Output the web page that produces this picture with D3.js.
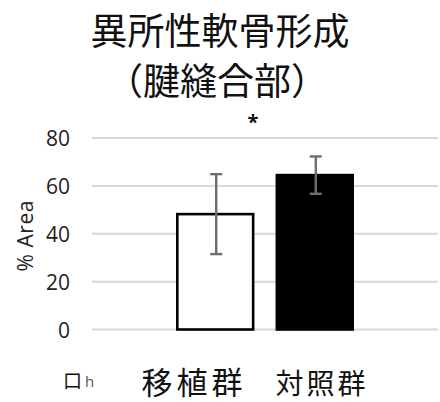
<!DOCTYPE html>
<html>
<head>
<meta charset="utf-8">
<script src="https://cdn.jsdelivr.net/npm/d3@7"></script>
<style>
  html, body { margin: 0; padding: 0; background: #fff; }
  svg { display: block; }
  .cjk { font-family: "Noto Sans CJK JP", "Noto Sans CJK SC", sans-serif; }
  .lat { font-family: "Open Sans", "Noto Sans", sans-serif; }
</style>
</head>
<body>
<svg id="chart" width="440" height="402"></svg>
<script>
// Chart data
const titleLines = ["異所性軟骨形成", "（腱縫合部）"];
const groups = ["移植群", "対照群"];
const means = [48.2, 64.5];
const errors = [16.7, 7.8];
const fills = ["#ffffff", "#000000"];
const yTicks = [0, 20, 40, 60, 80];
const yLabel = "% Area";
const legendText = ["口", "h"];
const sigMark = "*";

const svg = d3.select("#chart");

// Plot frame
const plot = { left: 92, right: 438, top: 138, bottom: 329.5 };

const y = d3.scaleLinear().domain([0, 80]).range([plot.bottom, plot.top]);

// single category cluster centred in the plot, two series side by side
const mid = (plot.left + plot.right) / 2;
const x = d3.scaleBand()
  .domain(groups)
  .range([mid - 89, mid + 89])
  .paddingInner(0.212)
  .paddingOuter(0);

// Title
svg.append("g").selectAll("text")
  .data(titleLines)
  .join("text")
  .attr("class", "cjk")
  .attr("x", (d, i) => i === 0 ? 220 : 217)
  .attr("y", (d, i) => i === 0 ? 45 : 95)
  .attr("text-anchor", "middle")
  .attr("font-size", 37)
  .attr("fill", "#111")
  .text(d => d);

// Gridlines
svg.append("g").selectAll("line")
  .data(yTicks)
  .join("line")
  .attr("x1", plot.left)
  .attr("x2", plot.right)
  .attr("y1", d => y(d))
  .attr("y2", d => y(d))
  .attr("stroke", "#d9d9d9")
  .attr("stroke-width", 2);

// Y axis labels
const yAxis = d3.axisLeft(y).tickValues(yTicks).tickSize(0).tickPadding(0);
const gy = svg.append("g")
  .attr("transform", `translate(70,0)`)
  .call(yAxis);
gy.select(".domain").remove();
gy.selectAll("text")
  .attr("class", "lat")
  .attr("font-size", 21)
  .attr("fill", "#222")
  .attr("dy", "0.36em");

// Y axis title
svg.append("text")
  .attr("class", "lat")
  .attr("transform", "translate(33,236) rotate(-90)")
  .attr("text-anchor", "middle")
  .attr("font-size", 21)
  .attr("textLength", 71)
  .attr("lengthAdjust", "spacing")
  .attr("fill", "#222")
  .text(yLabel);

// Bars
svg.append("g").selectAll("rect")
  .data(groups)
  .join("rect")
  .attr("x", d => x(d) + 1.3)
  .attr("width", x.bandwidth() - 2.6)
  .attr("y", (d, i) => y(means[i]))
  .attr("height", (d, i) => plot.bottom - y(means[i]))
  .attr("fill", (d, i) => fills[i])
  .attr("stroke", "#000")
  .attr("stroke-width", 2.6);

// Error bars
const eb = svg.append("g")
  .attr("stroke", "#6e6e6e")
  .attr("stroke-width", 2.4)
  .attr("fill", "none");
groups.forEach((g, i) => {
  const cx = x(g) + x.bandwidth() / 2 + 1;
  const hi = y(means[i] + errors[i]);
  const lo = y(means[i] - errors[i]);
  eb.append("line").attr("x1", cx).attr("x2", cx).attr("y1", hi).attr("y2", lo);
  eb.append("line").attr("x1", cx - 6).attr("x2", cx + 6).attr("y1", hi).attr("y2", hi);
  eb.append("line").attr("x1", cx - 6).attr("x2", cx + 6).attr("y1", lo).attr("y2", lo);
});

// Significance mark
svg.append("text")
  .attr("class", "lat")
  .attr("x", 253)
  .attr("y", 129)
  .attr("text-anchor", "middle")
  .attr("font-size", 20)
  .attr("font-weight", "bold")
  .attr("fill", "#111")
  .text(sigMark);

// Legend
svg.append("text")
  .attr("class", "cjk")
  .attr("x", 63)
  .attr("y", 388)
  .attr("font-size", 19)
  .attr("fill", "#111")
  .text(legendText[0]);
svg.append("text")
  .attr("class", "lat")
  .attr("x", 85)
  .attr("y", 387)
  .attr("font-size", 15)
  .attr("fill", "#555")
  .text(legendText[1]);

// Group labels
const groupLabelPos = [
  { x: 194, size: 31, ls: 4 },
  { x: 322, size: 28, ls: 3 }
];
svg.append("g").selectAll("text")
  .data(groups)
  .join("text")
  .attr("class", "cjk")
  .attr("x", (d, i) => groupLabelPos[i].x)
  .attr("y", 394)
  .attr("text-anchor", "middle")
  .attr("font-size", (d, i) => groupLabelPos[i].size)
  .attr("letter-spacing", (d, i) => groupLabelPos[i].ls)
  .attr("fill", "#111")
  .text(d => d);
</script>
</body>
</html>
